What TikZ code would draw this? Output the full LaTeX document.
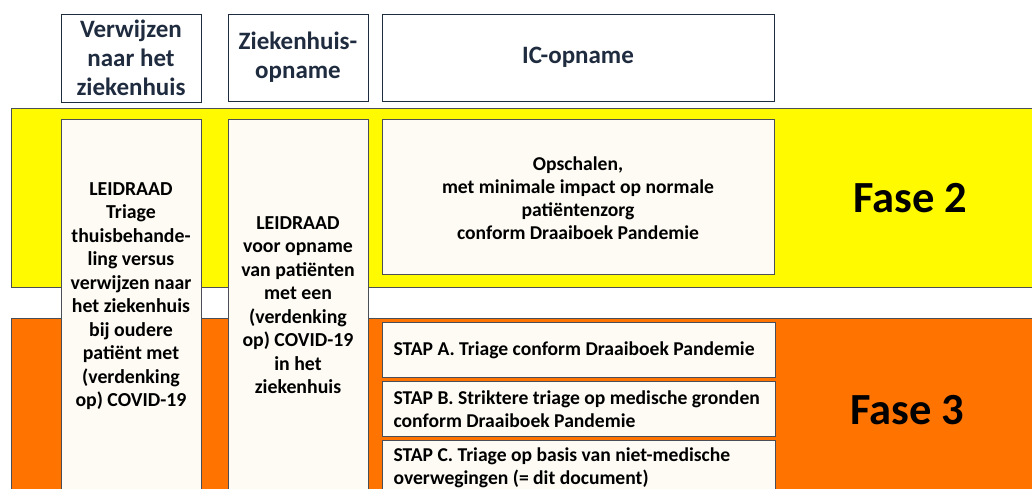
\documentclass[tikz,border=0pt]{standalone}
\usepackage{fontspec}
\setmainfont{Carlito}
\definecolor{faseyellow}{HTML}{FFFA00}
\definecolor{faseorange}{HTML}{FF7300}
\definecolor{boxcream}{HTML}{FDFBF4}
\definecolor{edgegray}{HTML}{4A4F57}
\definecolor{headnavy}{HTML}{1F2B3E}
\begin{document}
\begin{tikzpicture}[x=1pt,y=-1pt,
	band/.style={draw=edgegray, line width=1pt},
	colbox/.style={draw=edgegray, fill=boxcream, line width=1pt},
	headtxt/.style={align=center, text=headnavy, font=\fontsize{25}{29}\selectfont\bfseries},
	coltxt/.style={align=center, font=\fontsize{19.8}{23.5}\selectfont\bfseries},
	stapTxt/.style={anchor=west, align=left, font=\fontsize{19.6}{23}\selectfont\bfseries},
	fasetxt/.style={font=\fontsize{44.5}{50}\selectfont\bfseries}]
			%%%%% START %%%%%
			\useasboundingbox (0,0) rectangle (1032,488);
			\clip (0,0) rectangle (1032,488);
			
			% kopjes
			\draw[colbox, fill=white, draw=headnavy] (61,14) rectangle (201,102);
			\node[headtxt] (kop1) at (131,58) {Verwijzen\\naar het\\ziekenhuis};
			\draw[colbox, fill=white, draw=headnavy] (228,14) rectangle (368,101);
			\node[headtxt] (kop2) at (298,57.5) {Ziekenhuis-\\opname};
			\draw[colbox, fill=white, draw=headnavy] (382,14) rectangle (774,101);
			\node[headtxt] (kop3) at (578,57.5) {IC-opname};
			
			% fasebanden
			\draw[band, fill=faseyellow] (11,108) rectangle (1040,287);
			\draw[band, fill=faseorange] (11,318) rectangle (1040,500);
			\node[fasetxt] (fase2) at (910,198) {Fase 2};
			\node[fasetxt] (fase3) at (907,410) {Fase 3};
			
			% kolommen
			\draw[colbox] (61,119) rectangle (201,500);
			\node[coltxt] (leidraad1) at (131,296) {LEIDRAAD\\Triage\\thuisbehande-\\ling versus\\verwijzen naar\\het ziekenhuis\\bij oudere\\patiënt met\\(verdenking\\op) COVID-19};
			\draw[colbox] (228,119) rectangle (368,500);
			\node[coltxt] (leidraad2) at (298,305) {LEIDRAAD\\voor opname\\van patiënten\\met een\\(verdenking\\op) COVID-19\\in het\\ziekenhuis};
			
			% IC
			\draw[colbox] (382,119) rectangle (774,274);
			\node[coltxt, font=\fontsize{19.6}{23}\selectfont\bfseries] (opschalen) at (578,198) {Opschalen,\\met minimale impact op normale\\patiëntenzorg\\conform Draaiboek Pandemie};
			
			\draw[colbox] (382,322) rectangle (775,377);
			\node[stapTxt] (stapA) at (390,350) {STAP A. Triage conform Draaiboek Pandemie};
			\draw[colbox] (382,381) rectangle (775,436);
			\node[stapTxt] (stapB) at (390,409.5) {STAP B. Striktere triage op medische gronden\\conform Draaiboek Pandemie};
			\draw[colbox] (382,440) rectangle (775,500);
			\node[stapTxt] (stapC) at (390,467.5) {STAP C. Triage op basis van niet-medische\\overwegingen (= dit document)};
			%%%%% END %%%%%
\end{tikzpicture}
\end{document}
